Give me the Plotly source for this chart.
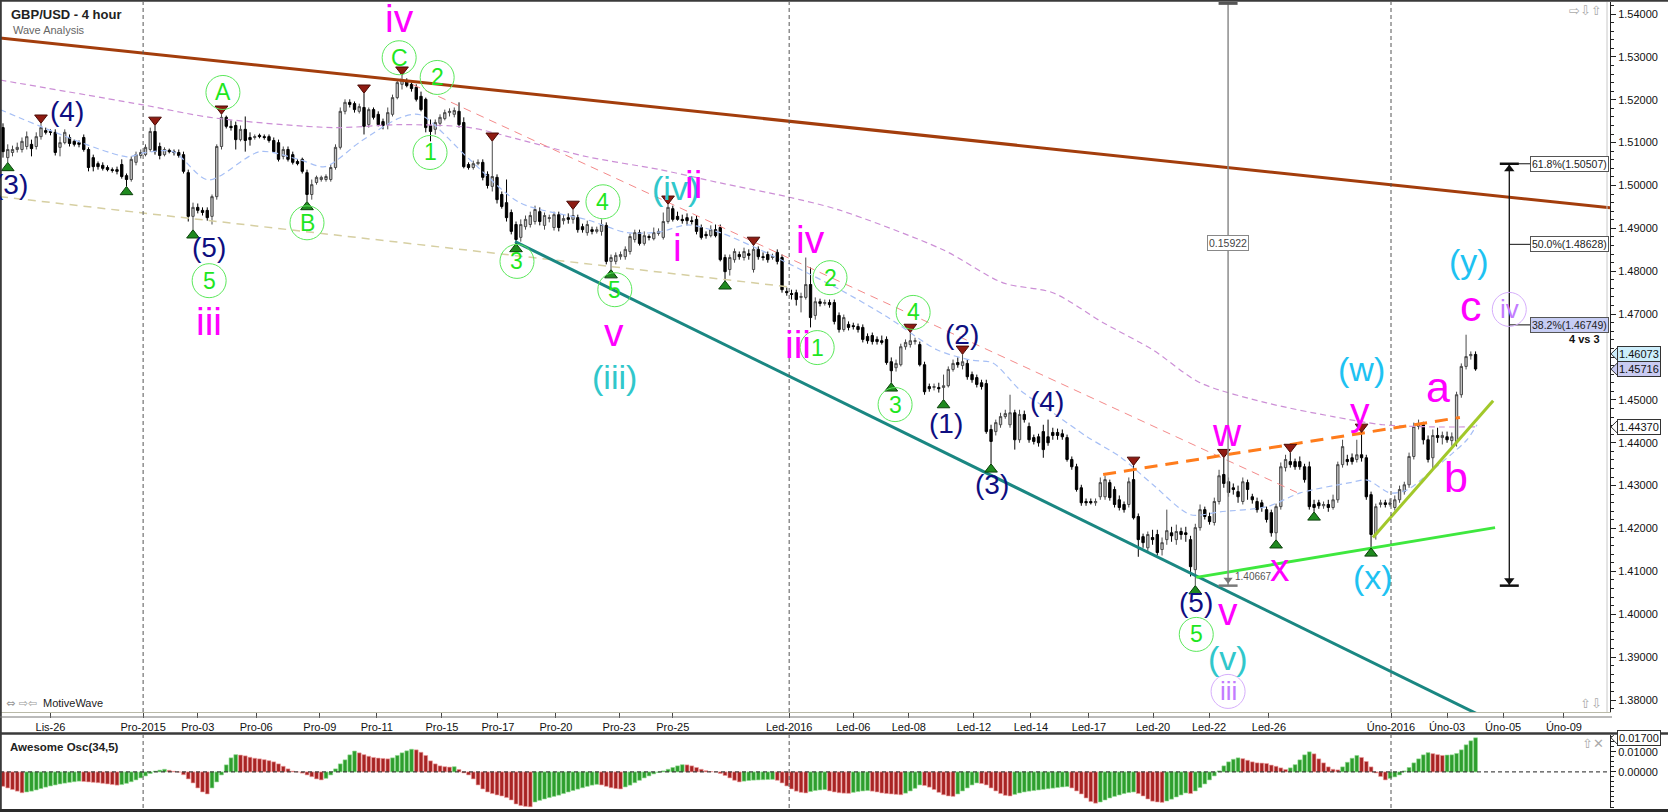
import plotly.graph_objects as go

W, H = 1668, 812
FONT = "Liberation Sans, Arial, sans-serif"
SYMF = "DejaVu Sans, sans-serif"

# ---------------- candle data (prices in 1e-4 units) ----------------
open_p = [
15135,15065,15077,15084,15084,15091,15096,15091,15114,15128,
15126,15124,15089,15100,15112,15103,15100,15112,15084,15065,
15051,15047,15042,15037,15037,15049,15023,15014,15054,15070,
15072,15084,15126,15091,15072,15082,15079,15077,15072,15030,
14928,14949,14942,14942,14928,14974,15091,15159,15138,15140,
15107,15131,15112,15112,15117,15114,15114,15105,15100,15068,
15084,15072,15056,15061,15030,14979,15007,15014,15014,15014,
15042,15089,15173,15194,15191,15173,15182,15142,15177,15166,
15149,15142,15166,15205,15236,15243,15236,15229,15208,15201,
15140,15131,15145,15156,15170,15166,15173,15147,15049,15042,
15051,15054,15026,14998,15019,14979,14960,14937,14909,14879,
14904,14909,14916,14939,14907,14923,14902,14932,14918,14925,
14921,14925,14904,14890,14897,14893,14893,14907,14823,14823,
14834,14834,14846,14874,14890,14865,14881,14876,14888,14879,
14916,14946,14928,14921,14925,14918,14921,14902,14886,14883,
14897,14902,14832,14804,14827,14839,14832,14841,14804,14851,
14834,14839,14832,14844,14832,14753,14748,14750,14739,14739,
14769,14697,14729,14725,14727,14727,14697,14664,14676,14673,
14671,14669,14648,14650,14641,14638,14641,14589,14575,14582,
14624,14629,14636,14629,14582,14531,14529,14529,14529,14533,
14571,14587,14580,14585,14559,14552,14540,14538,14431,14426,
14442,14461,14442,14470,14407,14466,14438,14412,14414,14426,
14414,14424,14424,14421,14412,14361,14344,14295,14263,14263,
14260,14274,14274,14307,14291,14267,14256,14256,14314,14228,
14181,14155,14179,14186,14151,14174,14190,14174,14193,14190,
14174,14104,14202,14244,14228,14214,14263,14326,14309,14295,
14286,14263,14307,14274,14263,14260,14244,14237,14190,14251,
14342,14356,14356,14356,14344,14344,14256,14260,14253,14256,
14249,14267,14349,14361,14365,14361,14372,14365,14279,14186,
14256,14260,14256,14249,14267,14286,14302,14368,14438,14442,
14407,14365,14417,14412,14414,14405,14403,14512,14578,14603,14606]

high_p = [
15145,15096,15093,15100,15112,15126,15107,15124,15145,15135,
15131,15131,15114,15131,15119,15107,15105,15119,15089,15072,
15056,15054,15047,15042,15044,15061,15028,15068,15079,15084,
15096,15135,15140,15100,15089,15086,15084,15084,15079,15037,
14960,14958,14949,14949,14979,15096,15166,15163,15152,15149,
15140,15161,15124,15119,15121,15119,15119,15112,15107,15091,
15091,15079,15061,15065,15037,15014,15023,15023,15026,15049,
15096,15182,15201,15201,15196,15191,15215,15182,15182,15173,
15156,15182,15212,15247,15257,15250,15240,15236,15219,15205,
15154,15154,15166,15177,15180,15182,15194,15159,15054,15058,
15061,15061,15033,15103,15026,14986,15014,14944,14916,14921,
14930,14939,14953,14949,14937,14932,14939,14939,14932,14935,
14944,14932,14911,14918,14904,14904,14921,14914,14839,14844,
14846,14858,14888,14897,14897,14893,14886,14902,14900,14937,
14956,14953,14939,14932,14935,14928,14930,14909,14893,14907,
14909,14909,14839,14839,14853,14846,14855,14851,14860,14858,
14844,14846,14841,14851,14839,14762,14757,14757,14750,14832,
14809,14739,14736,14734,14734,14734,14704,14699,14683,14680,
14678,14676,14655,14657,14648,14650,14648,14599,14594,14631,
14641,14657,14645,14636,14589,14538,14538,14540,14559,14578,
14594,14599,14606,14594,14566,14559,14547,14547,14442,14454,
14470,14477,14512,14477,14477,14475,14447,14419,14421,14442,
14454,14435,14433,14431,14419,14368,14351,14302,14270,14270,
14270,14319,14323,14314,14298,14277,14263,14319,14347,14235,
14188,14193,14197,14197,14179,14244,14204,14209,14202,14204,
14183,14211,14256,14251,14237,14272,14337,14365,14319,14305,
14300,14319,14314,14281,14272,14267,14251,14244,14258,14354,
14372,14377,14363,14368,14351,14356,14267,14267,14263,14267,
14279,14356,14407,14372,14375,14407,14424,14372,14286,14258,
14267,14267,14270,14277,14300,14309,14377,14447,14454,14449,
14417,14431,14435,14426,14426,14424,14519,14585,14652,14613,14613]

low_p = [
15065,15054,15068,15077,15077,15084,15068,15084,15107,15119,
15117,15070,15068,15096,15091,15091,15089,15079,15033,15033,
15037,15035,15033,15030,15026,15016,14998,15009,15047,15063,
15068,15079,15072,15061,15068,15075,15070,15065,15028,14916,
14897,14935,14930,14918,14909,14967,15084,15133,15128,15084,
15103,15079,15093,15107,15110,15107,15100,15077,15056,15061,
15056,15049,15047,15028,14963,14967,15002,15009,15009,15009,
15037,15084,15166,15182,15170,15168,15119,15135,15154,15138,
15131,15131,15161,15201,15224,15229,15219,15196,15173,15124,
15103,15119,15138,15152,15161,15159,15135,15040,15037,15037,
15047,15012,14993,14986,14958,14946,14916,14886,14865,14869,
14897,14902,14909,14907,14897,14914,14895,14893,14909,14911,
14911,14890,14890,14883,14886,14888,14883,14816,14804,14816,
14827,14827,14839,14867,14860,14860,14872,14872,14883,14874,
14911,14916,14918,14911,14907,14909,14886,14874,14876,14879,
14879,14823,14778,14790,14820,14827,14825,14827,14797,14827,
14825,14820,14827,14816,14750,14743,14734,14720,14704,14734,
14669,14687,14718,14720,14715,14676,14657,14659,14662,14664,
14657,14634,14631,14629,14629,14629,14582,14540,14566,14578,
14617,14622,14629,14578,14512,14519,14522,14517,14501,14529,
14566,14575,14571,14547,14540,14529,14524,14421,14351,14417,
14435,14456,14435,14384,14400,14447,14400,14396,14391,14365,
14393,14407,14407,14407,14356,14337,14286,14253,14253,14256,
14253,14267,14267,14265,14249,14242,14237,14249,14221,14134,
14155,14146,14162,14137,14137,14162,14169,14162,14174,14169,
14088,14067,14195,14221,14209,14207,14256,14295,14274,14279,
14260,14256,14267,14258,14237,14239,14214,14181,14174,14244,
14333,14342,14337,14337,14307,14244,14239,14246,14246,14239,
14244,14260,14342,14347,14349,14354,14356,14267,14155,14174,
14249,14249,14251,14242,14260,14279,14295,14361,14431,14396,
14354,14337,14400,14396,14400,14393,14391,14505,14571,14594,14568]

close_p = [
15079,15084,15084,15089,15103,15114,15086,15114,15135,15124,
15124,15077,15100,15124,15098,15096,15096,15084,15042,15044,
15044,15040,15037,15035,15033,15021,15014,15061,15072,15077,
15089,15126,15079,15070,15084,15079,15077,15070,15033,14928,
14949,14942,14937,14925,14974,15091,15159,15138,15135,15107,
15131,15105,15107,15114,15114,15112,15105,15079,15061,15084,
15061,15054,15051,15033,14979,15002,15019,15019,15021,15042,
15089,15173,15194,15189,15177,15184,15138,15177,15159,15142,
15140,15170,15205,15240,15247,15233,15226,15201,15177,15135,
15126,15147,15159,15170,15173,15175,15142,15044,15042,15051,
15054,15019,15000,15021,14967,14951,14925,14893,14874,14909,
14921,14930,14944,14916,14930,14925,14932,14902,14923,14921,
14930,14897,14897,14909,14893,14897,14909,14823,14832,14837,
14839,14851,14881,14890,14865,14883,14879,14890,14893,14916,
14949,14921,14921,14918,14918,14916,14893,14879,14883,14897,
14883,14827,14799,14832,14846,14834,14846,14837,14851,14834,
14832,14827,14834,14823,14757,14750,14746,14734,14741,14769,
14692,14729,14725,14727,14722,14683,14664,14692,14669,14671,
14664,14641,14638,14636,14636,14634,14587,14568,14585,14624,
14634,14638,14638,14582,14519,14526,14531,14526,14533,14571,
14585,14582,14589,14554,14547,14536,14531,14426,14403,14447,
14461,14468,14470,14407,14466,14454,14407,14403,14400,14384,
14400,14417,14417,14414,14361,14344,14291,14260,14260,14260,
14263,14307,14314,14272,14256,14249,14244,14309,14225,14174,
14167,14186,14174,14144,14167,14195,14183,14193,14186,14186,
14111,14202,14244,14228,14216,14263,14323,14305,14284,14291,
14274,14309,14291,14267,14244,14249,14221,14190,14251,14344,
14361,14349,14344,14344,14314,14251,14249,14253,14256,14249,
14267,14349,14391,14356,14356,14372,14365,14274,14186,14251,
14260,14256,14260,14267,14291,14302,14368,14438,14445,14407,
14361,14417,14412,14417,14407,14414,14512,14578,14601,14606,14572]

# Awesome Oscillator (34,5), in units of 0.001
ao_milli = [
-7.2,-8.0,-8.8,-9.6,-10.4,
-10.0,-9.6,-9.0,-8.3,-7.6,-7.0,-6.5,-6.0,-5.6,-5.2,-4.9,-4.6,
-4.8,-5.0,-5.2,-5.4,-5.7,-6.0,-6.3,-6.6,
-6.3,-5.7,-4.9,-4.0,-3.0,-2.0,
-0.8,0.4,0.9,1.3,
0.8,0.3,-0.1,
-1.4,-3.5,-5.5,-8.0,-10.0,-11.0,
-8.0,-5.0,-1.5,
3.5,7.0,8.6,
8.4,
8.0,7.3,6.8,6.5,6.1,5.6,5.0,4.0,2.8,1.5,
0.4,0.0,-0.6,
-1.5,-2.4,-3.5,-4.0,
-3.2,-1.5,
1.5,4.0,6.0,8.5,10.4,
9.5,8.6,7.8,7.2,6.9,6.7,6.5,
7.0,8.2,9.5,10.5,11.3,
11.0,9.8,8.2,5.5,4.0,3.0,2.6,2.4,2.6,1.2,
-0.5,-1.5,-3.5,-6.5,-8.5,-10.0,-10.8,-11.5,-12.0,-12.8,-14.0,-16.0,-16.8,-17.2,-17.4,
-15.0,-14.2,-13.5,-12.8,-12.2,-11.6,
-10.8,-10.0,-9.3,-8.6,-7.9,-7.2,-6.6,-6.2,
-6.5,-7.2,-7.9,-8.3,-8.5,
-7.5,-6.6,-5.4,-4.2,-3.0,-2.0,-1.0,
-0.3,0.5,1.3,2.2,3.0,3.6,
3.5,3.0,2.2,1.3,0.6,0.2,0.0,
-0.8,-1.8,-3.0,-4.2,-5.0,
-4.6,-4.3,-4.1,-4.0,-3.9,-3.8,-3.7,
-4.2,-5.5,-7.0,-8.5,-9.6,-10.2,-10.5,
-9.8,-9.3,-9.0,-8.8,
-9.5,-10.0,-10.4,-10.6,-10.7,
-10.2,-9.8,-9.5,-9.3,
-9.6,-10.0,-10.5,-10.8,-11.0,-11.2,-11.4,
-10.6,-9.5,-8.2,-6.5,
-6.8,-7.6,-8.8,-10.2,-11.4,-12.0,-12.2,
-11.0,-9.5,-8.0,-6.5,-5.5,
-5.8,-6.5,-8.0,-9.5,-10.8,-11.7,-12.0,
-11.2,-10.5,-10.0,-9.6,-9.3,-9.0,-8.7,-8.4,-8.1,-7.8,-7.5,-7.3,
-8.0,-9.5,-11.0,-13.0,-14.8,-15.6,
-15.0,-14.0,-13.0,-12.2,-11.5,-10.8,-10.3,-10.0,
-10.8,-12.0,-13.5,-14.6,-15.0,-15.2,
-14.5,-13.6,-12.5,-11.5,-10.5,
-10.8,
-9.5,-7.8,-6.0,-4.0,-2.0,
0.5,3.0,5.0,6.3,7.0,
6.6,5.8,5.0,4.5,4.4,4.2,3.4,2.8,2.0,1.2,
2.0,3.6,6.0,8.5,10.0,
9.0,6.5,4.5,2.5,1.3,1.0,
2.5,4.8,6.8,8.2,
7.2,5.2,2.5,
-0.5,-2.3,-4.0,
-3.2,-2.5,-1.5,
0.5,2.2,4.5,6.5,8.5,9.6,
9.1,8.6,8.2,
8.4,8.5,9.2,11.0,13.5,15.5,17.0]

# x-axis tick labels (bar index)
tick_idx = [10, 29.5, 41, 53.3, 66.7, 78.7, 92.4, 104.2, 116.4, 129.7, 141, 165.5, 179, 190.7,
            204.4, 216.4, 228.6, 242.1, 253.9, 266.5, 292.2, 304, 315.8, 328.6]
tick_text = ["Lis-26", "Pro-2015", "Pro-03", "Pro-06", "Pro-09", "Pro-11", "Pro-15", "Pro-17",
             "Pro-20", "Pro-23", "Pro-25", "Led-2016", "Led-06", "Led-08", "Led-12", "Led-14",
             "Led-17", "Led-20", "Led-22", "Led-26", "Úno-2016", "Úno-03", "Úno-05", "Úno-09"]
sep_idx = [29.5, 165.5, 292.2]

# moving averages (read points)
purple_idx = [-0.6, 29.5, 44.2, 69.5, 83.6, 98.3, 108.8, 123, 138.3, 151, 165, 176, 197.9, 210.5,
              221, 231.6, 242, 252, 266, 280, 290.5, 301, 310]
purple_val = [1.5246, 1.5188, 1.5158, 1.5135, 1.5142, 1.5135, 1.5107, 1.5067, 1.5037, 1.5006, 1.4974,
              1.4943, 1.4850, 1.4773, 1.4750, 1.4680, 1.4617, 1.4540, 1.4493, 1.4461, 1.4442, 1.4437, 1.4437]
blue_idx = [-0.6, 26.1, 29.5, 35.8, 43.2, 54.1, 62.5, 67.8, 75.2, 83.6, 87.8, 98.3, 108.8, 123, 131.4,
            138.3, 144, 151, 158, 165, 176.2, 186.1, 196.6, 203.6, 208.4, 214.1, 221, 228.2, 235.2,
            242.1, 250, 256.2, 266.1, 273.1, 283.6, 287.2, 292, 295.6, 301, 305.3, 308.2, 310.3]
blue_val = [1.5177, 1.5067, 1.5076, 1.5079, 1.5013, 1.5079, 1.5060, 1.5044, 1.5102, 1.5158, 1.5165,
            1.5060, 1.4960, 1.4920, 1.4890, 1.4892, 1.4908, 1.4890, 1.4857, 1.4820, 1.4757, 1.4694,
            1.4617, 1.4593, 1.4586, 1.4523, 1.4470, 1.4414, 1.4367, 1.4302, 1.4232, 1.4239, 1.4251,
            1.4283, 1.4307, 1.4313, 1.4283, 1.4290, 1.4337, 1.4377, 1.4407, 1.4442]

# trend lines (endpoints)
brown_x, brown_y = [-0.63, 338.3], [1.5344, 1.4948]
teal_x, teal_y = [107.8, 311.0], [1.4869, 1.3764]
red_x, red_y = [83.6, 272.4], [1.5249, 1.4284]
tan_x, tan_y = [-0.63, 165.1], [1.4974, 1.4764]
orange_x, orange_y = [231.6, 306.7], [1.4326, 1.4459]
green_x, green_y = [251.2, 314.1], [1.4086, 1.4202]
lime_x, lime_y = [288.4, 313.7], [1.4179, 1.4498]

# swing markers
top_idx = [8, 32, 46, 76, 84, 103, 120, 140, 158, 191, 202, 238, 257, 271, 286]
bot_idx = [1, 26, 40, 64, 108, 128, 152, 187, 198, 208, 251, 268, 276, 288]

# fibonacci / measure tool
fib_x = 317.1
fib_levels = [1.50507, 1.48628, 1.46749]
fib_text = ["61.8%(1.50507)", "50.0%(1.48628)", "38.2%(1.46749)"]
fib_low = 1.40667
meas_x = 257.9
meas_low = 1.40667
meas_range = 0.15922

# wave labels
lab_text = ["(iii)", "(iv)", "(v)",
            "(w)", "(x)", "(y)",
            "(3)", "(4)", "(5)", "(2)", "(1)", "(3)", "(4)", "(5)",
            "A", "5", "B", "C", "2", "1", "3", "4", "5", "2", "1", "4", "3", "5",
            "iii", "iv",
            "iv", "iii", "v", "i", "ii", "iv", "iii", "w", "x", "y", "v",
            "a", "b", "c"]
lab_x = [128.8, 141.5, 257.9,
         285.9, 288.4, 308.6,
         1.7, 13.5, 43.4, 201.9, 198.5, 208.2, 219.8, 251.2,
         46.3, 43.4, 64.0, 83.4, 91.4, 89.9, 108.2, 126.3, 128.8, 174.1, 171.4, 191.6, 187.8, 251.2,
         257.9, 317.1,
         83.4, 43.4, 128.6, 141.9, 145.3, 169.9, 167.4, 257.7, 268.8, 285.7, 257.9,
         302.1, 305.9, 309.1]
lab_y = [1.4554, 1.4995, 1.3899,
         1.4571, 1.4088, 1.4823,
         1.5002, 1.5172, 1.4855, 1.4652, 1.4445, 1.4302, 1.4496, 1.4027,
         1.5217, 1.4778, 1.4913, 1.5298, 1.5252, 1.5077, 1.4823, 1.4962, 1.4757, 1.4785, 1.4622,
         1.4704, 1.4489, 1.3953,
         1.3820, 1.4711,
         1.5389, 1.4683, 1.4657, 1.4855, 1.5002, 1.4874, 1.4629, 1.4424, 1.4109, 1.4473, 1.4006,
         1.4529, 1.4321, 1.4718]
lab_kind = ["teal"] * 3 + ["sky"] * 3 + ["navy"] * 8 + ["green"] * 14 + ["lav"] * 2 + ["mag"] * 11 + ["magL"] * 3

axis_boxes = [1.46073, 1.45716, 1.44370]
osc_box = 0.01700

# ---------------- build ----------------
n = len(close_p)
idx = list(range(n))
o = [v / 1e4 for v in open_p]
h = [v / 1e4 for v in high_p]
l = [v / 1e4 for v in low_p]
c = [v / 1e4 for v in close_p]
ao = [v / 1000 for v in ao_milli]

fig = go.Figure()

def line(x, y, color, width, dash=None, shape="linear", xa="x", ya="y"):
    ln = dict(color=color, width=width, dash=dash, shape=shape)
    if shape == "spline":
        ln["smoothing"] = 0.8
    fig.add_trace(go.Scatter(x=x, y=y, mode="lines", xaxis=xa, yaxis=ya, hoverinfo="skip",
                             line=ln, showlegend=False))

line(purple_idx, purple_val, "#cc8fd6", 1.2, "6px,4px", "spline")
line(blue_idx, blue_val, "#a6bff5", 1.2, "6px,4px", "spline")
line(tan_x, tan_y, "#d6cfa2", 1.5, "8px,6px")
line(red_x, red_y, "#f48a8a", 1.0, "8px,6px")

fig.add_trace(go.Candlestick(
    x=idx, open=o, high=h, low=l, close=c, xaxis="x", yaxis="y",
    increasing=dict(line=dict(color="#4a4a4a", width=1), fillcolor="#c4c4c4"),
    decreasing=dict(line=dict(color="#000000", width=1), fillcolor="#000000"),
    whiskerwidth=0, hoverinfo="skip", showlegend=False))

line(brown_x, brown_y, "#a33d0c", 3)
line(teal_x, teal_y, "#1a8782", 3)
line(green_x, green_y, "#3ee83e", 3)
line(lime_x, lime_y, "#a2c82a", 3)
line(orange_x, orange_y, "#ff7c1c", 3, "13px,8px")

# swing markers
fig.add_trace(go.Scatter(x=top_idx, y=[h[k] + 0.0013 for k in top_idx], mode="markers", hoverinfo="skip",
                         marker=dict(symbol="triangle-down", size=11, color="#8e1b12",
                                     line=dict(color="#4a0a05", width=1)), showlegend=False))
fig.add_trace(go.Scatter(x=bot_idx, y=[l[k] - 0.0013 for k in bot_idx], mode="markers", hoverinfo="skip",
                         marker=dict(symbol="triangle-up", size=11, color="#1f8a1f",
                                     line=dict(color="#0a400a", width=1)), showlegend=False))

# measure tool (gray)
line([meas_x, meas_x], [meas_low, meas_low + meas_range], "#8c8c8c", 1.5)
line([meas_x - 2, meas_x + 2], [meas_low, meas_low], "#7a7a7a", 2.5)
line([meas_x - 2, meas_x + 2], [1.5426, 1.5426], "#555555", 4)
fig.add_trace(go.Scatter(x=[meas_x], y=[meas_low + 0.0014], mode="markers", hoverinfo="skip",
                         marker=dict(symbol="triangle-down", size=8, color="#777"), showlegend=False))

# fib tool (black)
line([fib_x, fib_x], [fib_low, fib_levels[0]], "#111111", 1.3)
line([fib_x - 2, fib_x + 2], [fib_low, fib_low], "#111111", 2.5)
line([fib_x - 2, fib_x + 2], [fib_levels[0], fib_levels[0]], "#111111", 2.5)
fig.add_trace(go.Scatter(x=[fib_x, fib_x], y=[fib_levels[0] - 0.0012, fib_low + 0.0012], mode="markers",
                         hoverinfo="skip", marker=dict(symbol=["triangle-up", "triangle-down"], size=9,
                                                      color="#111"), showlegend=False))
for lv in fib_levels:
    line([fib_x, fib_x + 4.4], [lv, lv], "#111111", 1)

# oscillator bars
col, edge = [], []
for k in range(len(ao)):
    up = k > 0 and ao[k] >= ao[k - 1]
    col.append("#2e9e2e" if up else "#a82424")
    edge.append("#8fdc8f" if up else "#f0a0a0")
fig.add_trace(go.Bar(x=idx[:len(ao)], y=ao, xaxis="x2", yaxis="y2", width=0.8, hoverinfo="skip",
                     marker=dict(color=col, line=dict(color=edge, width=0.6)), showlegend=False))

def PX(x):
    return x / W

def PY(y):
    return 1 - y / H

XD = [0, PX(1610)]
TF = dict(size=11, family=FONT, color="#111")
fig.update_layout(
    width=W, height=H, autosize=False, margin=dict(l=0, r=0, t=0, b=0),
    paper_bgcolor="white", plot_bgcolor="white", showlegend=False,
    font=dict(family=FONT, color="#111"),
    xaxis=dict(domain=XD, range=[-0.63, 338.3], anchor="y", tickvals=tick_idx, ticktext=tick_text,
               ticks="outside", ticklen=5, tickcolor="#444", showline=True, linecolor="#b9b9a8",
               showgrid=False, zeroline=False, tickfont=TF,
               rangeslider=dict(visible=False), fixedrange=True),
    yaxis=dict(domain=[PY(712), PY(2)], range=[1.3772, 1.5428], side="right", anchor="x",
               tick0=1.38, dtick=0.01, tickformat=".5f", ticks="outside", ticklen=5, tickcolor="#222",
               showline=True, linecolor="#222", showgrid=False, zeroline=False, tickfont=TF,
               minor=dict(dtick=0.002, ticks="outside", ticklen=3, tickcolor="#222")),
    xaxis2=dict(domain=XD, matches="x", anchor="y2", showticklabels=False, showline=False,
                showgrid=False, zeroline=False, ticks=""),
    yaxis2=dict(domain=[PY(808), PY(735)], range=[-0.018, 0.0184], side="right", anchor="x2",
                tickvals=[0, 0.01], tickformat=".5f", ticks="outside", ticklen=5, tickcolor="#222",
                showline=True, linecolor="#222", showgrid=False, zeroline=False, tickfont=TF,
                minor=dict(dtick=0.0025, ticks="outside", ticklen=3, tickcolor="#222")),
)

shapes = []
for s in sep_idx:
    for ya in ("y domain", "y2 domain"):
        shapes.append(dict(type="line", xref="x", yref=ya, x0=s, x1=s, y0=0, y1=1,
                           line=dict(color="#555", width=1, dash="4px,3px")))
shapes.append(dict(type="line", xref="paper", yref="y2", x0=0, x1=XD[1], y0=0, y1=0,
                   line=dict(color="#222", width=1, dash="4px,3px")))
# frame lines
shapes.append(dict(type="line", xref="paper", yref="paper", x0=0, x1=1, y0=PY(0.8), y1=PY(0.8),
                   line=dict(color="#3a3a3a", width=2)))
shapes.append(dict(type="line", xref="paper", yref="paper", x0=PX(0.8), x1=PX(0.8), y0=0, y1=1,
                   line=dict(color="#3a3a3a", width=2)))
shapes.append(dict(type="line", xref="paper", yref="paper", x0=0, x1=1, y0=PY(733.5), y1=PY(733.5),
                   line=dict(color="#3a3a3a", width=2.5)))
shapes.append(dict(type="line", xref="paper", yref="paper", x0=0, x1=1, y0=PY(810.5), y1=PY(810.5),
                   line=dict(color="#2a2a2a", width=3)))
shapes.append(dict(type="line", xref="paper", yref="paper", x0=0, x1=PX(1612), y0=PY(717), y1=PY(717),
                   line=dict(color="#777", width=1)))
shapes.append(dict(type="line", xref="paper", yref="paper", x0=PX(1607), x1=PX(1607), y0=PY(712), y1=PY(2),
                   line=dict(color="#c8c8c8", width=1)))

STY = {
    "navy": dict(color="#0e0e80", size=28, circle=None),
    "green": dict(color="#1fe61f", size=23, circle="#5be85b"),
    "mag": dict(color="#ff00ff", size=39, circle=None),
    "magL": dict(color="#ff00ff", size=43, circle=None),
    "teal": dict(color="#31c7cb", size=34, circle=None),
    "sky": dict(color="#1ec2f2", size=34, circle=None),
    "lav": dict(color="#c27cff", size=26, circle="#d6aefc"),
}

anns = []
for t, x, y, k in zip(lab_text, lab_x, lab_y, lab_kind):
    st = STY[k]
    anns.append(dict(x=x, y=y, xref="x", yref="y", text=t, showarrow=False, xanchor="center",
                     yanchor="middle", font=dict(family=FONT, size=st["size"], color=st["color"])))
    if st["circle"]:
        shapes.append(dict(type="circle", xref="x", yref="y", xsizemode="pixel", ysizemode="pixel",
                           xanchor=x, yanchor=y, x0=-17, x1=17, y0=-17, y1=17,
                           line=dict(color=st["circle"], width=1)))

# fib labels
for lv, t in zip(fib_levels, fib_text):
    anns.append(dict(x=fib_x + 4.4, y=lv, xref="x", yref="y", text=t, showarrow=False, xanchor="left",
                     yanchor="middle", bgcolor="#c7cdf4" if t.startswith("38") else "white",
                     bordercolor="#555", borderwidth=1, borderpad=1,
                     font=dict(family=FONT, size=10.5, color="#222")))
anns.append(dict(x=336.6, y=1.4641, xref="x", yref="y", text="<b>4 vs 3</b>", showarrow=False,
                 xanchor="right", yanchor="middle", font=dict(family=FONT, size=11, color="#111")))
anns.append(dict(x=meas_x, y=1.4867, xref="x", yref="y", text=f"{meas_range:.5f}", showarrow=False,
                 xanchor="center", yanchor="middle", bgcolor="white", bordercolor="#888", borderwidth=1,
                 borderpad=1, font=dict(family=FONT, size=10.5, color="#444")))
anns.append(dict(x=meas_x + 1.1, y=1.4088, xref="x", yref="y", text=f"{meas_low:.5f}", showarrow=False,
                 xanchor="left", yanchor="middle", font=dict(family=FONT, size=10, color="#555")))

# axis value boxes with pointer
box_bg = ["#cdeefb", "#c9cbf2", "white"]
for v, bg in zip(axis_boxes, box_bg):
    d = 0.0016
    shapes.append(dict(type="path", xref="paper", yref="y",
                       path=f"M {PX(1611)},{v} L {PX(1618)},{v + d} L {PX(1618)},{v - d} Z",
                       fillcolor=bg, line=dict(color="#333", width=1)))
    anns.append(dict(x=PX(1617), y=v, xref="paper", yref="y", text=f"{v:.5f}", showarrow=False,
                     xanchor="left", yanchor="middle", bgcolor=bg, bordercolor="#333", borderwidth=1,
                     borderpad=1, font=TF))
shapes.append(dict(type="path", xref="paper", yref="y2",
                   path=f"M {PX(1611)},{osc_box} L {PX(1618)},{osc_box + 0.0035} L {PX(1618)},{osc_box - 0.0035} Z",
                   fillcolor="white", line=dict(color="#333", width=1)))
anns.append(dict(x=PX(1617), y=osc_box, xref="paper", yref="y2", text=f"{osc_box:.5f}", showarrow=False,
                 xanchor="left", yanchor="middle", bgcolor="white", bordercolor="#333", borderwidth=1,
                 borderpad=1, font=TF))

def ptext(x, y, t, size, color, anchor="left", bold=False, family=FONT):
    anns.append(dict(x=PX(x), y=PY(y), xref="paper", yref="paper", text=f"<b>{t}</b>" if bold else t,
                     showarrow=False, xanchor=anchor, yanchor="middle",
                     font=dict(family=family, size=size, color=color)))

ptext(9, 14, "GBP/USD - 4 hour", 13, "#222", bold=True)
ptext(11, 30, "Wave Analysis", 11, "#666")
ptext(4, 703, "⇔ ⇨⇦", 11, "#999", family=SYMF)
ptext(41, 703, "MotiveWave", 11, "#222")
ptext(8, 747, "Awesome Osc(34,5)", 11.5, "#222", bold=True)
ptext(1604, 10, "⇨⇩⇧", 13, "#aaa", anchor="right", family=SYMF)
ptext(1604, 703, "⇧⇩", 13, "#aaa", anchor="right", family=SYMF)
ptext(1606, 743, "⇧✕", 13, "#aaa", anchor="right", family=SYMF)

fig.update_layout(shapes=shapes, annotations=anns)
fig.write_html("out.html", config={"displayModeBar": False, "staticPlot": True},
               post_script="document.body.style.margin='0px';document.body.style.overflow='hidden';")
